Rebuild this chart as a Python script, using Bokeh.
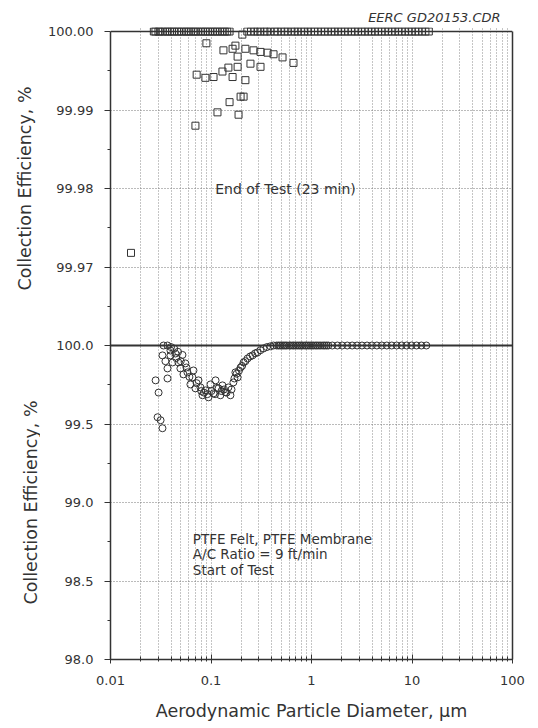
import math
from bokeh.plotting import figure
from bokeh.layouts import row
from bokeh.models import FixedTicker, LinearAxis, Range1d, Span
from bokeh.core.properties import value
from bokeh.embed import file_html
from bokeh.resources import INLINE

FONT = "DejaVu Sans"
INK = "#333333"
GRID = "#8a8a8a"

# ---------------- data ----------------
# End of test (upper panel, squares) - points sitting on 100.00 %
end_row_x = [0.027, 0.028, 0.030, 0.031, 0.033, 0.035, 0.037, 0.039, 0.041, 0.043,
             0.046, 0.048, 0.051, 0.054, 0.057, 0.060, 0.063, 0.067, 0.070, 0.074,
             0.079, 0.083, 0.088, 0.093, 0.098, 0.104, 0.110, 0.116, 0.123, 0.130,
             0.137, 0.145, 0.153,
             0.23, 0.25, 0.27, 0.29, 0.31, 0.34, 0.36, 0.39, 0.43, 0.46, 0.50, 0.54,
             0.58, 0.63, 0.68, 0.73, 0.79, 0.85, 0.92, 0.99, 1.07, 1.16, 1.25, 1.35,
             1.46, 1.58, 1.70, 1.84, 1.98, 2.14, 2.31, 2.50, 2.70, 2.91, 3.15, 3.40,
             3.67, 3.96, 4.28, 4.62, 4.99, 5.39, 5.82, 6.29, 6.79, 7.33, 7.92, 8.55,
             9.24, 9.97, 10.8, 11.6, 12.6, 13.6, 14.7]
end_row_y = [100.0] * len(end_row_x)
# End of test - points below 100.00 %
end_off_x = [0.016, 0.070, 0.072, 0.088, 0.090, 0.106, 0.116, 0.130, 0.133, 0.149,
             0.153, 0.164, 0.164, 0.175, 0.184, 0.184, 0.188, 0.197, 0.205, 0.211,
             0.220, 0.220, 0.247, 0.265, 0.311, 0.311, 0.365, 0.419, 0.515, 0.662]
end_off_y = [99.9718, 99.9880, 99.9945, 99.9941, 99.9985, 99.9942, 99.9897, 99.9949,
             99.9976, 99.9954, 99.9910, 99.9978, 99.9942, 99.9982, 99.9968, 99.9955,
             99.9894, 99.9917, 99.9996, 99.9917, 99.9978, 99.9938, 99.9959, 99.9976,
             99.9974, 99.9955, 99.9973, 99.9971, 99.9967, 99.9960]

# Start of test (lower panel, circles)
start_curve_x = [0.0281, 0.0294, 0.0301, 0.0315, 0.0329, 0.0329, 0.0337, 0.0352, 0.0369,
                 0.0369, 0.0369, 0.0395, 0.0395, 0.0414, 0.0443, 0.0474, 0.0496, 0.0532,
                 0.0556, 0.0583, 0.0624, 0.0654, 0.0669, 0.0700, 0.0751, 0.0786, 0.0823,
                 0.0882, 0.0944, 0.0989, 0.106, 0.111, 0.119, 0.124, 0.130, 0.139, 0.149,
                 0.156, 0.167, 0.175, 0.184, 0.197, 0.211, 0.231, 0.259, 0.290, 0.333,
                 0.360, 0.390, 0.419]
start_curve_y = [99.778, 99.543, 99.700, 99.524, 99.473, 99.937, 100.0, 99.900, 100.0,
                 99.854, 99.790, 99.968, 99.937, 99.892, 99.949, 99.892, 99.854, 99.816,
                 99.886, 99.829, 99.752, 99.797, 99.841, 99.727, 99.778, 99.733, 99.683,
                 99.714, 99.670, 99.752, 99.695, 99.778, 99.727, 99.683, 99.746, 99.702,
                 99.733, 99.683, 99.765, 99.829, 99.797, 99.860, 99.892, 99.917, 99.937,
                 99.956, 99.981, 99.990, 99.995, 100.0]
start_band_x = [0.040, 0.043, 0.045, 0.047, 0.050, 0.052, 0.057, 0.061, 0.072, 0.080,
                0.085, 0.092, 0.101, 0.110, 0.115, 0.127, 0.135, 0.143, 0.160, 0.171,
                0.180, 0.190, 0.204, 0.220, 0.245, 0.275, 0.310]
start_band_y = [99.990, 99.980, 99.920, 99.960, 99.900, 99.940, 99.860, 99.800, 99.760,
                99.710, 99.700, 99.690, 99.710, 99.690, 99.730, 99.710, 99.720, 99.700,
                99.720, 99.790, 99.820, 99.840, 99.870, 99.900, 99.930, 99.950, 99.970]
start_row_x = [0.45, 0.47, 0.49, 0.51, 0.53, 0.55, 0.57, 0.60, 0.62, 0.65, 0.67, 0.70,
               0.73, 0.76, 0.79, 0.82, 0.86, 0.89, 0.93, 0.97, 1.01, 1.05, 1.10, 1.14,
               1.19, 1.24, 1.30, 1.35, 1.41, 1.47, 1.61, 1.81, 2.02, 2.27, 2.54, 2.84,
               3.18, 3.57, 3.99, 4.47, 5.01, 5.61, 6.28, 7.04, 7.88, 8.83, 9.89, 11.1,
               12.4, 13.9]
start_row_y = [100.0] * len(start_row_x)

# axes / tick labels
x_ticks = [0.01, 0.1, 1, 10, 100]
x_tick_labels = ["0.01", "0.1", "1", "10", "100"]
bot_ticks = [98.0, 98.5, 99.0, 99.5, 100.0]
bot_tick_labels = ["98.0", "98.5", "99.0", "99.5", "100.0"]
top_ticks = [99.97, 99.98, 99.99, 100.00]
top_tick_labels = ["99.97", "99.98", "99.99", "100.00"]

# annotations
end_note_x = [0.11]
end_note_y = [99.98]
end_note_text = ["End of Test (23 min)"]
start_note_x = [0.066, 0.066, 0.066]
start_note_y = [98.77, 98.67, 98.57]
start_note_text = ["PTFE Felt, PTFE Membrane", "A/C Ratio = 9 ft/min", "Start of Test"]

y_title = "Collection Efficiency, %"
x_title = "Aerodynamic Particle Diameter, \u03bcm"
corner_title = "EERC GD20153.CDR"

# ---------------- layout: two stacked panels in one frame ----------------
PANEL_PX = 314
PAD_PX = 4
TOP_B, BOT_B = 27, 67
H = TOP_B + PAD_PX + 2 * PANEL_PX + BOT_B
SIDE_W = 40
bot_lo, bot_hi = 98.0, 100.0
top_lo, top_hi = 99.96, 100.00
scale = (bot_hi - bot_lo) / (top_hi - top_lo)
per_px = (bot_hi - bot_lo) / PANEL_PX
top_line = bot_hi + (bot_hi - bot_lo)


def top_to_axis(v):
    return round(bot_hi + (v - top_lo) * scale, 6)


yr = Range1d(bot_lo, top_line + PAD_PX * per_px)
p = figure(width=70 + 402 + 14, height=H, x_axis_type="log",
           x_range=Range1d(0.01, 100), y_range=yr,
           output_backend="svg", toolbar_location=None,
           min_border_left=70, min_border_right=14,
           min_border_top=TOP_B, min_border_bottom=BOT_B,
           title=corner_title)
p.extra_y_ranges = {"top": Range1d(top_lo - (bot_hi - bot_lo) / scale,
                                   top_hi + PAD_PX * per_px / scale)}
p.outline_line_color = None
p.background_fill_color = "white"
p.border_fill_color = "white"

p.title.align = "right"
p.title.text_font = FONT
p.title.text_font_style = "italic"
p.title.text_font_size = "13px"
p.title.text_color = INK
p.title.standoff = 5
p.title.offset = 12

# left axis
ax = p.left[0]
ticks_all = bot_ticks + [top_to_axis(v) for v in top_ticks]
labels_all = bot_tick_labels + top_tick_labels
minor_all = [round((a + b) / 2, 6) for a, b in zip(ticks_all[:-1], ticks_all[1:])]
ax.ticker = FixedTicker(ticks=ticks_all, minor_ticks=minor_all)
ax.major_label_overrides = {t: s for t, s in zip(ticks_all, labels_all)}
ax.bounds = (bot_lo, top_line)
ax.axis_line_color = INK
ax.axis_line_width = 1.5
ax.major_tick_line_color = INK
ax.minor_tick_line_color = INK
ax.major_tick_out = 6
ax.major_tick_in = 0
ax.minor_tick_out = 3
ax.minor_tick_in = 0
ax.major_label_standoff = 11
ax.major_label_text_font = FONT
ax.major_label_text_font_size = "13px"
ax.major_label_text_color = INK

# right border as a bare axis
rax = LinearAxis(ticker=FixedTicker(ticks=[]), bounds=(bot_lo, top_line),
                 axis_line_color=INK, axis_line_width=1.5,
                 major_tick_line_color=None, minor_tick_line_color=None,
                 major_label_standoff=0, major_label_text_font_size="0px")
p.add_layout(rax, "right")

# bottom axis
xax = p.below[0]
minor_x = [m * d for d in (0.01, 0.1, 1, 10) for m in range(2, 10)]
xt = FixedTicker(ticks=x_ticks, minor_ticks=minor_x)
xax.ticker = xt
xax.major_label_overrides = {t: s for t, s in zip(x_ticks, x_tick_labels)}
xax.axis_line_color = INK
xax.axis_line_width = 1.5
xax.major_tick_line_color = INK
xax.minor_tick_line_color = INK
xax.major_tick_in = 5
xax.major_tick_out = 4
xax.minor_tick_in = 3
xax.minor_tick_out = 2
xax.major_label_standoff = 12
xax.major_label_text_font = FONT
xax.major_label_text_font_size = "13px"
xax.major_label_text_color = INK
xax.axis_label = x_title
xax.axis_label_text_font = FONT
xax.axis_label_text_font_style = "normal"
xax.axis_label_text_font_size = "17.5px"
xax.axis_label_text_color = INK
xax.axis_label_standoff = 13

# grids
p.xgrid.ticker = xt
p.xgrid.grid_line_color = GRID
p.xgrid.grid_line_dash = "1 2"
p.xgrid.minor_grid_line_color = GRID
p.xgrid.minor_grid_line_dash = "1 2"
p.ygrid.ticker = FixedTicker(ticks=[t for t in ticks_all if t not in (bot_lo, bot_hi, top_line)])
p.ygrid.grid_line_color = "#777777"
p.ygrid.grid_line_dash = "1 2"

# panel border lines
p.add_layout(Span(location=top_line, dimension="width", line_color=INK, line_width=1.5))
p.add_layout(Span(location=bot_hi, dimension="width", line_color=INK, line_width=2))

# data
p.scatter(end_row_x + end_off_x, end_row_y + end_off_y, y_range_name="top",
          marker="square", size=7, fill_color=None, line_color=INK, line_width=1)
p.scatter(start_curve_x + start_band_x + start_row_x,
          start_curve_y + start_band_y + start_row_y,
          marker="circle", size=7, fill_color=None, line_color=INK, line_width=1)

# notes
p.text(x=end_note_x, y=end_note_y, text=end_note_text, y_range_name="top",
       text_font=value(FONT), text_font_size="14px", text_color=INK,
       text_align="left", text_baseline="middle")
p.text(x=start_note_x, y=start_note_y, text=start_note_text,
       text_font=value(FONT), text_font_size="13.5px", text_color=INK,
       text_align="left", text_baseline="middle")

# side strip holding the two rotated y titles
side = figure(width=SIDE_W, height=H, x_range=Range1d(0, 1), y_range=yr,
              x_axis_location=None, y_axis_location=None,
              output_backend="svg", toolbar_location=None,
              min_border_left=0, min_border_right=0,
              min_border_top=TOP_B, min_border_bottom=BOT_B)
side.outline_line_color = None
side.grid.visible = False
side.border_fill_color = "white"
side.text(x=[0.6, 0.75],
          y=[top_to_axis((top_lo + top_hi) / 2), (bot_lo + bot_hi) / 2],
          text=[y_title, y_title], angle=math.pi / 2,
          text_font=value(FONT), text_font_size="17.5px", text_color=INK,
          text_align="center", text_baseline="middle")

layout = row(side, p, spacing=0)
open("out.html", "w").write(file_html(layout, INLINE))
